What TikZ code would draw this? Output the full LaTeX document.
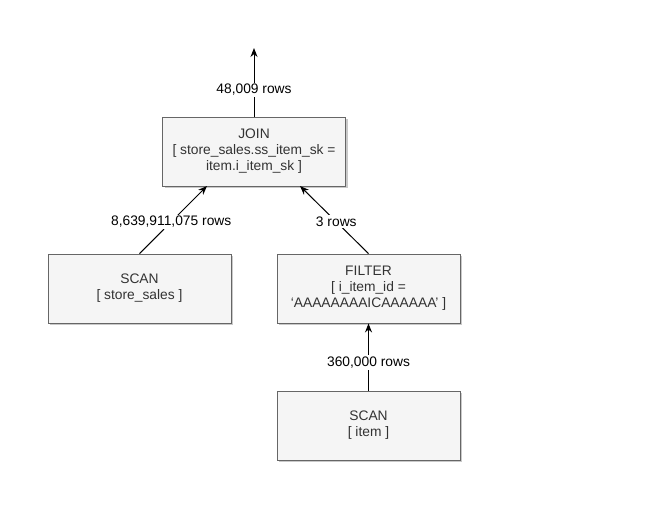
\documentclass[tikz,border=0pt]{standalone}
\usepackage{fontspec}
\setmainfont{Liberation Sans}
\usetikzlibrary{arrows.meta,shadows}
\definecolor{txt}{HTML}{333333}
\definecolor{boxfill}{HTML}{F5F5F5}
\definecolor{boxdraw}{HTML}{666666}
\tikzset{
  opbox/.style={draw=boxdraw, fill=boxfill, line width=0.9pt, minimum width=183pt, minimum height=69pt,
    align=center, text=txt, font=\fontsize{13.8}{16}\selectfont, inner sep=0pt,
    drop shadow={shadow xshift=2pt, shadow yshift=-2pt, fill=black!35, opacity=0.6}},
  rowlbl/.style={fill=white, text=black, font=\fontsize{13.8}{15}\selectfont, inner sep=1.5pt},
  flow/.style={draw=black, line width=1pt, -{Stealth[length=9pt,width=7pt]}}
}
\begin{document}
\begin{tikzpicture}[x=1pt,y=-1pt]
\useasboundingbox[fill=white] (0,0) rectangle (652,520);
\node[opbox] (join) at (254,151.5) {JOIN\\{[} store\_sales.ss\_item\_sk =\\item.i\_item\_sk ]};
\node[opbox] (scanss) at (139.5,288.5) {SCAN\\{[} store\_sales ]};
\node[opbox] (filter) at (368.5,288.5) {FILTER\\{[} i\_item\_id =\\‘AAAAAAAAICAAAAAA’ ]};
\node[opbox] (scanit) at (368.5,425.5) {SCAN\\{[} item ]};
\coordinate (out) at (254,48);
\coordinate (jl) at (207,186);
\coordinate (jr) at (300,186);
\draw[flow] (join.north) -- node[rowlbl, pos=0.39] {48,009 rows} (out);
\draw[flow] (scanss.north) -- node[rowlbl, pos=0.47] {8,639,911,075 rows} (jl);
\draw[flow] (filter.north) -- node[rowlbl, pos=0.47] {3 rows} (jr);
\draw[flow] (scanit.north) -- node[rowlbl, pos=0.42] {360,000 rows} (filter.south);
\end{tikzpicture}
\end{document}
